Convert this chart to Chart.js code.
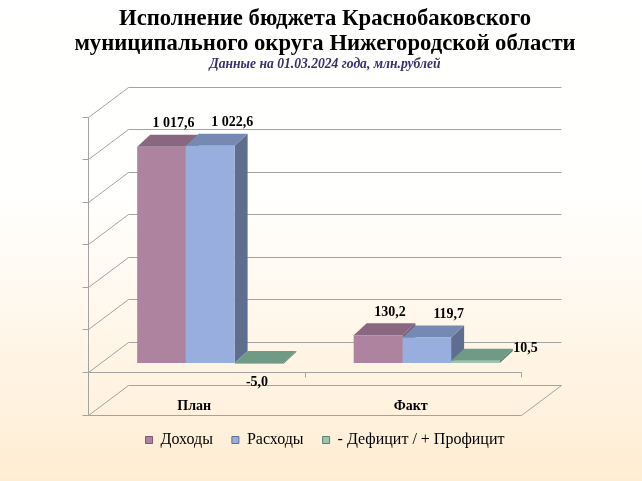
<!DOCTYPE html>
<html>
<head>
<meta charset="utf-8">
<script src="https://cdn.jsdelivr.net/npm/chart.js@4.4.1/dist/chart.umd.min.js"></script>
<style>
html,body{margin:0;padding:0;overflow:hidden;background:#fff;}
canvas{display:block;}
</style>
</head>
<body>
<canvas id="c" width="642" height="481"></canvas>
<script>
// ---- data ----
const categories = ['План', 'Факт'];
const incomeValues = [1017.6, 130.2];
const expenseValues = [1022.6, 119.7];
const balanceValues = [-5.0, 10.5];
const seriesNames = ['Доходы', 'Расходы', '- Дефицит / + Профицит'];
const titleLines = ['Исполнение бюджета Краснобаковского', 'муниципального округа Нижегородской области'];
const subtitleText = 'Данные на 01.03.2024 года, млн.рублей';
const axisMin = -200, axisMax = 1200, axisStep = 200;

// ---- styles ----
const SERIF = "'Liberation Serif', 'Times New Roman', serif";
const frontColors = ['#AD83A0', '#98AEDF', '#9CC4AE'];
const topColors = ['#8A6780', '#7689B2', '#6E9A86'];
const sideColors = ['#7A5A72', '#5F6E8E', '#5A8170'];

function fmt(v) {
  const parts = Math.abs(v).toFixed(1).split('.');
  const intPart = parts[0].replace(/\B(?=(\d{3})+(?!\d))/g, ' ');
  return (v < 0 ? '-' : '') + intPart + ',' + parts[1];
}

const FRONT = {dx: -14, dy: 9};
const BACK = {dx: 26, dy: -21};
const DEPTH = {dx: 13, dy: -12};

const bgPlugin = {
  id: 'bg',
  beforeDraw(chart) {
    const {ctx, width, height} = chart;
    const g = ctx.createLinearGradient(0, 0, 0, height);
    g.addColorStop(0, '#FFFFFF');
    g.addColorStop(0.4, '#FFFFFE');
    g.addColorStop(1, '#FFEDD3');
    ctx.save();
    ctx.fillStyle = g;
    ctx.fillRect(0, 0, width, height);
    ctx.restore();
  }
};

const wallsPlugin = {
  id: 'walls',
  beforeDatasetsDraw(chart) {
    const {ctx, chartArea, scales} = chart;
    const y = scales.y, x = scales.x;
    const L = chartArea.left, R = chartArea.right;
    ctx.save();
    ctx.strokeStyle = '#A3A3A3';
    ctx.lineWidth = 1;
    const line = (x1, y1, x2, y2) => {
      ctx.beginPath();
      ctx.moveTo(Math.round(x1) + 0.5, Math.round(y1) + 0.5);
      ctx.lineTo(Math.round(x2) + 0.5, Math.round(y2) + 0.5);
      ctx.stroke();
    };
    y.ticks.forEach(t => {
      const py = y.getPixelForValue(t.value);
      line(L + BACK.dx, py + BACK.dy, R + BACK.dx, py + BACK.dy);
      line(L + FRONT.dx, py + FRONT.dy, L + BACK.dx, py + BACK.dy);
      line(L + FRONT.dx - 6, py + FRONT.dy, L + FRONT.dx, py + FRONT.dy);
    });
    const pTop = y.getPixelForValue(y.max), pMin = y.getPixelForValue(y.min), p0 = y.getPixelForValue(0);
    line(L + FRONT.dx, pTop + FRONT.dy, L + FRONT.dx, pMin + FRONT.dy);
    line(L + FRONT.dx, pMin + FRONT.dy, R + FRONT.dx, pMin + FRONT.dy);
    line(R + FRONT.dx, pMin + FRONT.dy, R + BACK.dx, pMin + BACK.dy);
    line(L + FRONT.dx, p0 + FRONT.dy, R + FRONT.dx, p0 + FRONT.dy);
    const n = x.ticks.length;
    for (let i = 0; i <= n; i++) {
      const xx = L + FRONT.dx + (R - L) * i / n;
      line(xx, p0 + FRONT.dy, xx, p0 + FRONT.dy + 5);
    }
    // category labels on the floor band
    ctx.font = 'bold 14px ' + SERIF;
    ctx.fillStyle = '#000';
    ctx.textAlign = 'center';
    ctx.textBaseline = 'middle';
    chart.data.labels.forEach((lab, i) => {
      ctx.fillText(lab, x.getPixelForTick(i) - 16, pMin + 0.5);
    });
    // 3D sides and tops of bars, drawn behind the library's front faces
    const metas = chart.data.datasets.map((d, i) => chart.getDatasetMeta(i));
    for (let c = 0; c < categories.length; c++) {
      metas.forEach((meta, d) => {
        const bar = meta.data[c];
        if (!bar) return;
        const {x: bx, y: by, base, width} = bar.getProps(['x', 'y', 'base', 'width'], true);
        const left = bx - width / 2, right = bx + width / 2;
        const top = Math.min(by, base), bottom = Math.max(by, base);
        ctx.fillStyle = sideColors[d];
        ctx.beginPath();
        ctx.moveTo(right, top);
        ctx.lineTo(right + DEPTH.dx, top + DEPTH.dy);
        ctx.lineTo(right + DEPTH.dx, bottom + DEPTH.dy);
        ctx.lineTo(right, bottom);
        ctx.closePath();
        ctx.fill();
        ctx.fillStyle = topColors[d];
        ctx.beginPath();
        ctx.moveTo(left, top);
        ctx.lineTo(left + DEPTH.dx, top + DEPTH.dy);
        ctx.lineTo(right + DEPTH.dx, top + DEPTH.dy);
        ctx.lineTo(right, top);
        ctx.closePath();
        ctx.fill();
      });
    }
    ctx.restore();
  }
};

const labelOffsets = [{dx: 12, dy: -23}, {dx: 22, dy: -23}, {dx: 50, dy: -12, negDx: -2, negDy: 19}];

const valueLabelsPlugin = {
  id: 'valueLabels',
  afterDatasetsDraw(chart) {
    const {ctx} = chart;
    ctx.save();
    ctx.font = 'bold 14px ' + SERIF;
    ctx.fillStyle = '#000';
    ctx.textAlign = 'center';
    ctx.textBaseline = 'middle';
    chart.data.datasets.forEach((ds, d) => {
      const meta = chart.getDatasetMeta(d);
      meta.data.forEach((bar, i) => {
        const v = ds.data[i];
        const o = labelOffsets[d];
        let tx, ty;
        if (v < 0 && o.negDx !== undefined) {
          tx = bar.x + o.negDx; ty = bar.base + o.negDy;
        } else {
          tx = bar.x + o.dx; ty = Math.min(bar.y, bar.base) + o.dy;
        }
        ctx.fillText(fmt(v), tx, ty);
      });
    });
    ctx.restore();
  }
};

const hiddenAxis = (pos, w) => ({
  position: pos,
  display: true,
  grid: {display: false, drawTicks: false},
  border: {display: false},
  ticks: {display: false},
  afterFit(s) { s.width = w; }
});

new Chart(document.getElementById('c'), {
  type: 'bar',
  data: {
    labels: categories,
    datasets: [
      {label: seriesNames[0], data: incomeValues, backgroundColor: frontColors[0], borderWidth: 0},
      {label: seriesNames[1], data: expenseValues, backgroundColor: frontColors[1], borderWidth: 0},
      {label: seriesNames[2], data: balanceValues, backgroundColor: frontColors[2], borderWidth: 0}
    ]
  },
  options: {
    responsive: false,
    animation: false,
    devicePixelRatio: 1,
    datasets: {bar: {barPercentage: 1, categoryPercentage: 0.675}},
    layout: {padding: {left: 8, right: 0, top: 0, bottom: 23}},
    scales: {
      x: {
        display: true,
        grid: {display: false, drawTicks: false},
        border: {display: false},
        ticks: {display: false},
        afterFit(s) { s.height = 7.5; }
      },
      y: Object.assign(hiddenAxis('left', 94), {min: axisMin, max: axisMax, ticks: {display: false, stepSize: axisStep}}),
      yRight: hiddenAxis('right', 107)
    },
    plugins: {
      title: {
        display: true,
        text: titleLines,
        color: '#000',
        font: {family: SERIF, size: 22.7, weight: 'bold', lineHeight: 25.5 / 22.7},
        padding: {top: 6, bottom: 0}
      },
      subtitle: {
        display: true,
        text: subtitleText,
        color: '#3B2D6C',
        font: {family: SERIF, size: 13.6, weight: 'bold', style: 'italic', lineHeight: 1.1},
        padding: {top: 0, bottom: 36}
      },
      legend: {
        display: true,
        position: 'bottom',
        labels: {
          font: {family: SERIF, size: 16}, color: '#000', boxWidth: 7, boxHeight: 7, padding: 19,
          generateLabels(chart) {
            const items = Chart.defaults.plugins.legend.labels.generateLabels(chart);
            items.forEach((it, i) => { it.strokeStyle = sideColors[i]; it.lineWidth = 1; });
            return items;
          }
        }
      },
      tooltip: {enabled: false}
    }
  },
  plugins: [bgPlugin, wallsPlugin, valueLabelsPlugin]
});
</script>
</body>
</html>
